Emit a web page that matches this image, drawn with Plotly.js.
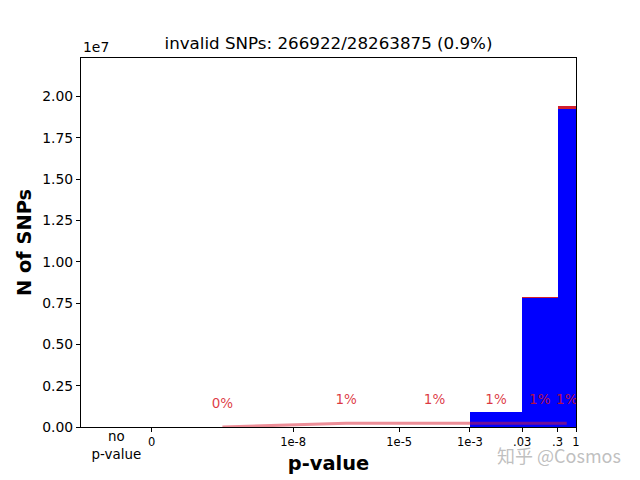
<!DOCTYPE html>
<html>
<head>
<meta charset="utf-8">
<script src="https://cdn.plot.ly/plotly-3.0.1.min.js"></script>
<style>
  body { margin: 0; background: #fff; }
  #chart { width: 640px; height: 480px; }
</style>
</head>
<body>
<div id="chart"></div>
<script>
// x axis is log10(p); "0" sits at -12, "no p-value" at -13
var edgeLog = [-12, -8, -5, -3, Math.log10(0.03), Math.log10(0.3), 0];
var edgeLabels = ['0', '1e-8', '1e-5', '1e-3', '.03', '.3', '1'];

var noPvalPos = [-13];
var noPvalLabel = ['no<br>p-value'];
var noPvalCount = [0];

// one value per bin between consecutive edges
var validCounts = [300, 4000, 30000, 915000, 7790000, 19230000];
var invalidCounts = [0, 40, 300, 9000, 76000, 181000];
var pctLabels = ['0%', '1%', '1%', '1%', '1%', '1%'];
var pctLabelY = [1.33e6, 1.57e6, 1.57e6, 1.57e6, 1.57e6, 1.57e6];
var invalidLine = [0, 2.25e5, 2.28e5, 2.3e5, 2.3e5, 2.3e5];

var yTicks = [0, 0.25e7, 0.5e7, 0.75e7, 1e7, 1.25e7, 1.5e7, 1.75e7, 2e7];
var yTickText = ['0.00', '0.25', '0.50', '0.75', '1.00', '1.25', '1.50', '1.75', '2.00'];

var centers = [];
var widths = [];
for (var i = 0; i < edgeLog.length - 1; i++) {
    centers.push((edgeLog[i] + edgeLog[i + 1]) / 2);
    widths.push(edgeLog[i + 1] - edgeLog[i]);
}

var font = 'DejaVu Sans';

var valid = {
    x: centers, y: validCounts, width: widths,
    type: 'bar', name: 'valid',
    marker: {color: '#0000ff', line: {width: 0}},
    hoverinfo: 'skip'
};
var invalid = {
    x: centers, y: invalidCounts, width: widths,
    type: 'bar', name: 'invalid',
    marker: {color: '#d11f2f', line: {width: 0}},
    hoverinfo: 'skip'
};
var noPval = {
    x: noPvalPos, y: noPvalCount, width: [1],
    type: 'bar', xaxis: 'x2',
    marker: {color: '#0000ff', line: {width: 0}},
    hoverinfo: 'skip'
};
var line = {
    x: centers, y: invalidLine,
    type: 'scatter', mode: 'lines',
    line: {color: 'rgba(220,30,50,0.5)', width: 3},
    hoverinfo: 'skip'
};
var pct = {
    x: centers, y: pctLabelY,
    type: 'scatter', mode: 'text',
    text: pctLabels,
    textposition: 'middle center',
    textfont: {family: font, size: 13.5, color: 'rgba(215,20,30,0.85)'},
    hoverinfo: 'skip'
};

var layout = {
    width: 640, height: 480,
    margin: {l: 81, r: 64, t: 58, b: 53},
    paper_bgcolor: '#fff', plot_bgcolor: '#fff',
    showlegend: false,
    barmode: 'stack', bargap: 0,
    font: {family: font, color: '#000'},
    title: {
        text: 'invalid SNPs: 266922/28263875 (0.9%)',
        font: {family: font, size: 16.7, color: '#000'},
        x: 0.5, xref: 'paper', xanchor: 'center',
        y: 1 - 43 / 480, yref: 'container', yanchor: 'middle'
    },
    xaxis: {
        range: [-14, 0],
        tickmode: 'array', tickvals: edgeLog, ticktext: edgeLabels,
        tickfont: {family: font, size: 11.5, color: '#000'},
        ticks: 'outside', ticklen: 4, tickwidth: 1, tickcolor: '#000',
        showline: true, linecolor: '#000', linewidth: 1, mirror: true,
        showgrid: false, zeroline: false,
        title: {text: 'p-value', font: {family: font, size: 19.4, weight: 'bold', color: '#000'}, standoff: 8}
    },
    xaxis2: {
        overlaying: 'x', anchor: 'y', side: 'bottom',
        range: [-14, 0],
        tickmode: 'array', tickvals: noPvalPos, ticktext: noPvalLabel,
        tickfont: {family: font, size: 13.4, color: '#000'},
        ticks: '', showline: false, showgrid: false, zeroline: false
    },
    yaxis: {
        range: [0, 2.232e7],
        tickmode: 'array', tickvals: yTicks, ticktext: yTickText,
        tickfont: {family: font, size: 13.9, color: '#000'},
        ticks: 'outside', ticklen: 4, tickwidth: 1, tickcolor: '#000',
        showline: true, linecolor: '#000', linewidth: 1, mirror: true,
        showgrid: false, zeroline: false,
        title: {text: 'N of SNPs', font: {family: font, size: 19.4, weight: 'bold', color: '#000'}, standoff: 5}
    },
    annotations: [
        {
            text: '1e7', xref: 'paper', yref: 'paper', x: 0, y: 1,
            xanchor: 'left', yanchor: 'bottom', yshift: 1, showarrow: false,
            font: {family: font, size: 13.9, color: '#000'}
        },
        {
            text: '知乎 @Cosmos', xref: 'paper', yref: 'paper', x: 0.966, y: -0.076,
            xanchor: 'center', yanchor: 'middle', showarrow: false,
            font: {family: 'Noto Sans CJK SC', size: 18, color: 'rgba(175,175,175,0.8)'}
        }
    ]
};

Plotly.newPlot('chart', [valid, invalid, noPval, line, pct], layout, {displayModeBar: false, staticPlot: true});
</script>
</body>
</html>
